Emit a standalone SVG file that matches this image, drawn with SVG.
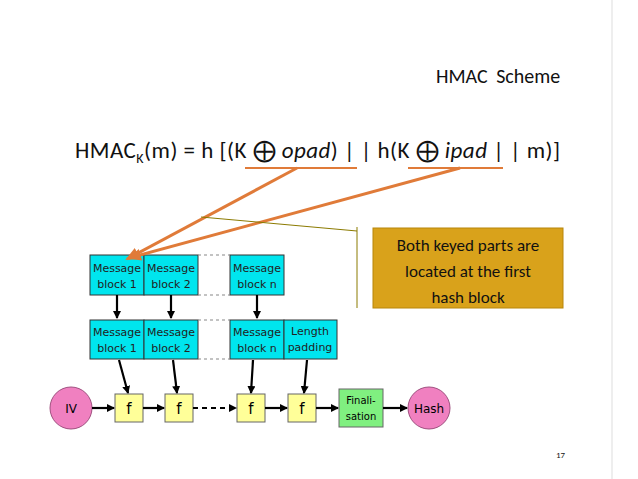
<svg xmlns="http://www.w3.org/2000/svg" width="638" height="479" viewBox="0 0 638 479">
<defs>
<style>
text{font-family:"DejaVu Sans","Liberation Sans",sans-serif}
.t{font-family:Carlito,"Open Sans","Liberation Sans",sans-serif;fill:#111}
.mb{fill:#00e5ee;stroke:#333;stroke-width:1}
.mt{font-size:11px;fill:#222;text-anchor:middle}
.f{fill:#ffff99;stroke:#666;stroke-width:1}
.blk{stroke:#000;stroke-width:2.2;fill:none}
.dot{stroke:#888;stroke-width:1.2;stroke-dasharray:3,3}
.or{stroke:#e07b39;stroke-width:3;fill:none}
</style>
<marker id="a" markerWidth="8" markerHeight="8" refX="7" refY="4" orient="auto" markerUnits="userSpaceOnUse"><path d="M0,0 L8,4 L0,8 z" fill="#000"/></marker>
<marker id="o" markerWidth="14" markerHeight="12" refX="12" refY="6" orient="auto" markerUnits="userSpaceOnUse"><path d="M0,0 L14,6 L0,12 z" fill="#e07b39"/></marker>
</defs>
<rect width="638" height="479" fill="#fff"/>
<line x1="612" y1="0" x2="612" y2="479" stroke="#ddd"/>
<text class="t" x="436" y="83" font-size="20" word-spacing="4">HMAC  Scheme</text>
<text class="t" x="75" y="158" font-size="23" textLength="485" lengthAdjust="spacing">HMAC<tspan font-size="14" dy="5">K</tspan><tspan dy="-5">(m) = h [(K ⨁ </tspan><tspan font-style="italic">opad</tspan>) | | h(K ⨁ <tspan font-style="italic">ipad</tspan> | | m)]</text>
<text class="t" x="556" y="458" font-size="9">17</text>
<g id="note">
<rect x="373" y="228" width="190" height="80" fill="#d9a21b" stroke="#b8860b"/>
<text class="t" font-size="17" text-anchor="middle"><tspan x="468" y="251">Both keyed parts are</tspan><tspan x="468" y="277">located at the first</tspan><tspan x="468" y="303">hash block</tspan></text>
</g>
<g id="r1">
<rect class="mb" x="90" y="255" width="54" height="40"/><text class="mt"><tspan x="117" y="272">Message</tspan><tspan x="117" y="288">block 1</tspan></text>
<rect class="mb" x="144" y="255" width="54" height="40"/><text class="mt"><tspan x="171" y="272">Message</tspan><tspan x="171" y="288">block 2</tspan></text>
<rect class="mb" x="230" y="255" width="54" height="40"/><text class="mt"><tspan x="257" y="272">Message</tspan><tspan x="257" y="288">block n</tspan></text>
</g>
<g id="r2">
<rect class="mb" x="90" y="320" width="54" height="39"/><text class="mt"><tspan x="117" y="336">Message</tspan><tspan x="117" y="352">block 1</tspan></text>
<rect class="mb" x="144" y="320" width="54" height="39"/><text class="mt"><tspan x="171" y="336">Message</tspan><tspan x="171" y="352">block 2</tspan></text>
<rect class="mb" x="230" y="320" width="54" height="39"/><text class="mt"><tspan x="257" y="336">Message</tspan><tspan x="257" y="352">block n</tspan></text>
<rect class="mb" x="284" y="320" width="53" height="39"/><text class="mt"><tspan x="310" y="335">Length</tspan><tspan x="310" y="351">padding</tspan></text>
</g>
<g id="chain">
<circle cx="71" cy="408" r="21" fill="#f080c0" stroke="#a05080"/><text x="71" y="413" font-size="12" text-anchor="middle">IV</text>
<rect class="f" x="115" y="394" width="28" height="28"/><text x="129" y="414" font-size="15" text-anchor="middle">f</text>
<rect class="f" x="165" y="394" width="28" height="28"/><text x="179" y="414" font-size="15" text-anchor="middle">f</text>
<rect class="f" x="237" y="394" width="28" height="28"/><text x="251" y="414" font-size="15" text-anchor="middle">f</text>
<rect class="f" x="288" y="394" width="28" height="28"/><text x="302" y="414" font-size="15" text-anchor="middle">f</text>
<rect x="339" y="389" width="44" height="38" fill="#80f080" stroke="#666"/><text font-size="10" text-anchor="middle"><tspan x="361" y="404">Finali-</tspan><tspan x="361" y="420">sation</tspan></text>
<circle cx="429" cy="408" r="21" fill="#f080c0" stroke="#a05080"/><text x="429" y="413" font-size="12" text-anchor="middle">Hash</text>
</g>
<g id="connectors">
<line class="dot" x1="198" y1="255" x2="230" y2="255"/><line class="dot" x1="198" y1="295" x2="230" y2="295"/>
<line class="dot" x1="198" y1="320" x2="230" y2="320"/><line class="dot" x1="198" y1="359" x2="230" y2="359"/>
<line class="blk" x1="117" y1="295" x2="117" y2="318" marker-end="url(#a)"/>
<line class="blk" x1="171" y1="295" x2="171" y2="318" marker-end="url(#a)"/>
<line class="blk" x1="257" y1="295" x2="257" y2="318" marker-end="url(#a)"/>
<line class="blk" x1="119" y1="360" x2="128" y2="393" marker-end="url(#a)"/>
<line class="blk" x1="173" y1="360" x2="177" y2="393" marker-end="url(#a)"/>
<line class="blk" x1="253" y1="360" x2="251" y2="393" marker-end="url(#a)"/>
<line class="blk" x1="307" y1="360" x2="304" y2="393" marker-end="url(#a)"/>
<line class="blk" x1="92" y1="408" x2="114" y2="408" marker-end="url(#a)"/>
<line class="blk" x1="143" y1="408" x2="164" y2="408" marker-end="url(#a)"/>
<line class="blk" x1="193" y1="408" x2="236" y2="408" stroke-dasharray="5,4" marker-end="url(#a)"/>
<line class="blk" x1="265" y1="408" x2="287" y2="408" marker-end="url(#a)"/>
<line class="blk" x1="316" y1="408" x2="338" y2="408" marker-end="url(#a)"/>
<line class="blk" x1="383" y1="408" x2="407" y2="408" marker-end="url(#a)"/>
<line x1="245" y1="168" x2="357" y2="168" stroke="#e07b39" stroke-width="2"/>
<line x1="408" y1="168" x2="503" y2="168" stroke="#e07b39" stroke-width="2"/>
<line class="or" x1="297" y1="168" x2="127" y2="259" marker-end="url(#o)"/>
<line class="or" x1="460" y1="168" x2="129" y2="258" marker-end="url(#o)"/>
<line x1="201" y1="217" x2="357" y2="231" stroke="#8b7a00" stroke-width="1"/>
<line x1="357" y1="227" x2="357" y2="308" stroke="#8b7a00" stroke-width="1"/>
</g>
</svg>
